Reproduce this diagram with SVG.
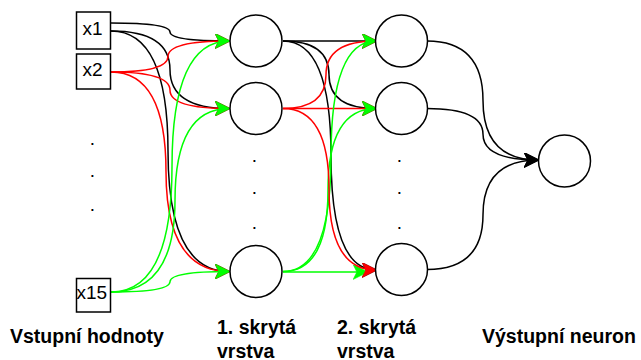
<svg xmlns="http://www.w3.org/2000/svg" width="641" height="360" viewBox="0 0 641 360">
<style>
.node{fill:#fff;stroke:#000;stroke-width:1.5}
.e{fill:none;stroke-width:1.5}
.k{stroke:#000}
.r{stroke:#ff0000}
.g{stroke:#00ff00}
.in{font-family:"Liberation Sans",Arial,sans-serif;font-size:19px;fill:#000}
.lbl{font-family:"Liberation Sans",Arial,sans-serif;font-size:19.5px;font-weight:bold;fill:#000}
.dot{font-family:"Liberation Sans",Arial,sans-serif;font-size:19px;fill:#000;text-anchor:middle}
</style>
<defs>
<marker id="ak" markerUnits="userSpaceOnUse" markerWidth="15" markerHeight="15" viewBox="0 0 14 14" refX="13" refY="7" orient="auto"><path d="M0,0 L14,7 L0,14 L3.5,7 Z" fill="#000" stroke="#000" stroke-width="0.5"/></marker>
<marker id="ar" markerUnits="userSpaceOnUse" markerWidth="15" markerHeight="15" viewBox="0 0 14 14" refX="13" refY="7" orient="auto"><path d="M0,0 L14,7 L0,14 L3.5,7 Z" fill="#ff0000" stroke="#ff0000" stroke-width="0.5"/></marker>
<marker id="ag" markerUnits="userSpaceOnUse" markerWidth="15" markerHeight="15" viewBox="0 0 14 14" refX="13" refY="7" orient="auto"><path d="M0,0 L14,7 L0,14 L3.5,7 Z" fill="#00ff00" stroke="#00ff00" stroke-width="0.5"/></marker>
</defs>
<rect width="641" height="360" fill="#fff"/>
<g id="connectors">
<!-- inputs to hidden layer 1 -->
<path class="e k" marker-end="url(#ak)" d="M111,23 Q170,23 170,32 Q170,41 229,41"/>
<path class="e k" marker-end="url(#ak)" d="M111,31 Q170,31 170,69.75 Q170,108.5 229,108.5"/>
<path class="e k" marker-end="url(#ak)" d="M111,31 Q168,31 168,151 Q168,271.5 229,271.5"/>
<path class="e r" marker-end="url(#ar)" d="M111,72 Q168,72 168,56.5 Q168,41 229,41"/>
<path class="e r" marker-end="url(#ar)" d="M111,72 Q170,72 170,90.25 Q170,108.5 229,108.5"/>
<path class="e r" marker-end="url(#ar)" d="M111,72 Q166,72 166,171.75 Q166,271.5 229,271.5"/>
<path class="e g" marker-end="url(#ag)" d="M111,292 Q172,292 172,166.5 Q172,41 229,41"/>
<path class="e g" marker-end="url(#ag)" d="M111,292 Q175,292 175,200.25 Q175,108.5 229,108.5"/>
<path class="e g" marker-end="url(#ag)" d="M111,292 Q170,292 170,281.75 Q170,271.5 229,271.5"/>
<!-- hidden layer 1 to hidden layer 2 -->
<path class="e k" marker-end="url(#ak)" d="M283,41 L376,41"/>
<path class="e k" marker-end="url(#ak)" d="M283,41 Q329,41 329,74.75 Q329,108.5 376,108.5"/>
<path class="e k" marker-end="url(#ak)" d="M283,41 Q331,41 331,155.5 Q331,270 376,270"/>
<path class="e r" marker-end="url(#ar)" d="M283,108.5 Q326,108.5 326,74.75 Q326,41 376,41"/>
<path class="e r" marker-end="url(#ar)" d="M283,108.5 L376,108.5"/>
<path class="e g" marker-end="url(#ag)" d="M283,271.5 Q331,271.5 331,156.25 Q331,41 376,41"/>
<path class="e g" marker-end="url(#ag)" d="M283,271.5 Q328,271.5 328,190 Q328,108.5 376,108.5"/>
<path class="e g" marker-end="url(#ag)" d="M283,272 L367,272"/>
<path class="e r" marker-end="url(#ar)" d="M283,108.5 Q329,108.5 329,189.25 Q329,270 376,270"/>
<!-- hidden layer 2 to output -->
<path class="e k" marker-end="url(#ak)" d="M427,41 Q483,41 483,100.5 Q483,160 538,160"/>
<path class="e k" marker-end="url(#ak)" d="M427,108.5 Q483,108.5 483,134.25 Q483,160 538,160"/>
<path class="e k" marker-end="url(#ak)" d="M427,269.5 Q483,269.5 483,214.75 Q483,160 538,160"/>
</g>
<g id="x1"><rect class="node" x="76.5" y="12" width="34" height="37"/><text class="in" x="82.5" y="34.5">x1</text></g>
<g id="x2"><rect class="node" x="76.5" y="54" width="34" height="35"/><text class="in" x="82.5" y="76">x2</text></g>
<g id="x15"><rect class="node" x="76.5" y="278.5" width="34" height="33.5"/><text class="in" x="76.5" y="299">x15</text></g>
<g id="input-dots"><text class="dot" x="92.5" y="144.5">.</text><text class="dot" x="92.5" y="177">.</text><text class="dot" x="92.5" y="211">.</text></g>
<g id="h1-1"><circle class="node" cx="256" cy="41" r="26"/></g>
<g id="h1-2"><circle class="node" cx="256" cy="108.5" r="26"/></g>
<g id="h1-3"><circle class="node" cx="256" cy="271.5" r="26"/></g>
<g id="h1-dots"><text class="dot" x="254.5" y="162">.</text><text class="dot" x="254.5" y="194">.</text><text class="dot" x="254.5" y="228.5">.</text></g>
<g id="h2-1"><circle class="node" cx="401.5" cy="41" r="26"/></g>
<g id="h2-2"><circle class="node" cx="401.5" cy="108.5" r="26"/></g>
<g id="h2-3"><circle class="node" cx="401.5" cy="269.5" r="26"/></g>
<g id="h2-dots"><text class="dot" x="399.5" y="161.5">.</text><text class="dot" x="399.5" y="194">.</text><text class="dot" x="399.5" y="228.5">.</text></g>
<g id="out"><circle class="node" cx="564.5" cy="161" r="26"/></g>
<g id="labels">
<text class="lbl" x="10" y="343">Vstupní hodnoty</text>
<text class="lbl" x="217" y="334">1. skrytá</text>
<text class="lbl" x="217" y="358">vrstva</text>
<text class="lbl" x="337" y="334">2. skrytá</text>
<text class="lbl" x="337" y="358">vrstva</text>
<text class="lbl" x="482" y="343">Výstupní neuron</text>
</g>
</svg>
